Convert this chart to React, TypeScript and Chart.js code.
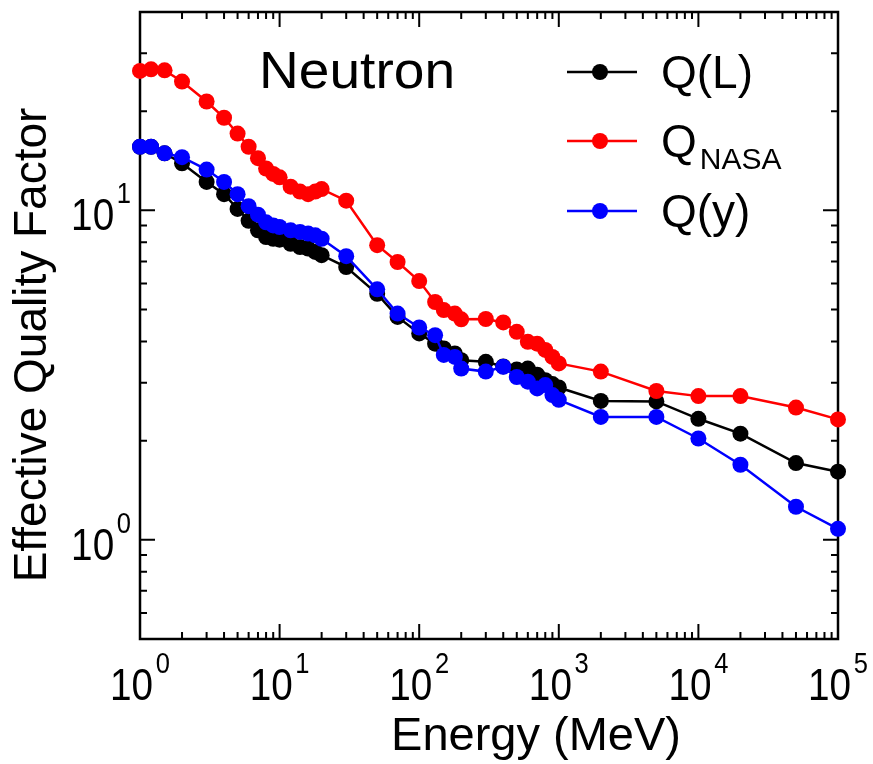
import React, { useEffect, useRef } from "react";
import { Chart, registerables } from "chart.js";

Chart.register(...registerables);

// ---- data ----
const energies = [1, 1.2, 1.5, 2, 3, 4, 5, 6, 7, 8, 9, 10, 12, 14, 16, 18, 20, 30, 50, 70, 100, 130, 150, 180, 200, 300, 400, 500, 600, 700, 800, 900, 1000, 2000, 5000, 10000, 20000, 50000, 100000];
const qL = [15.6, 15.6, 14.9, 13.9, 12.2, 11.2, 10.1, 9.3, 8.7, 8.3, 8.2, 8.15, 7.92, 7.74, 7.66, 7.48, 7.31, 6.73, 5.58, 4.75, 4.23, 3.94, 3.81, 3.68, 3.51, 3.47, 3.36, 3.29, 3.31, 3.17, 3.05, 2.97, 2.9, 2.64, 2.63, 2.33, 2.1, 1.71, 1.61];
const qNASA = [26.5, 26.8, 26.6, 24.6, 21.4, 19.1, 17.1, 15.6, 14.4, 13.4, 12.9, 12.6, 11.8, 11.4, 11.2, 11.4, 11.6, 10.7, 7.84, 6.97, 6.1, 5.27, 4.98, 4.86, 4.67, 4.68, 4.57, 4.28, 3.99, 3.94, 3.77, 3.59, 3.43, 3.24, 2.83, 2.73, 2.73, 2.52, 2.32];
const qY = [15.6, 15.6, 14.9, 14.5, 13.3, 12.2, 11.2, 10.3, 9.7, 9.2, 9.0, 8.9, 8.7, 8.6, 8.5, 8.4, 8.2, 7.26, 5.76, 4.86, 4.41, 4.18, 3.64, 3.59, 3.31, 3.24, 3.35, 3.12, 3.02, 2.88, 2.95, 2.75, 2.66, 2.36, 2.36, 2.03, 1.69, 1.26, 1.08];

const xMajorTicks = [1, 10, 100, 1000, 10000, 100000];
const xTickExponents = ["0", "1", "2", "3", "4", "5"];
const yMajorTicks = [1, 10];
const yTickExponents = ["0", "1"];
const yMinorTicks = [0.6, 0.7, 0.8, 0.9, 2, 3, 4, 5, 6, 7, 8, 9, 20, 30];
const minorMultipliers = [2, 3, 4, 5, 6, 7, 8, 9];

const seriesNames = ["Q(L)", "Q", "Q(y)"];
const seriesColors = ["#000000", "#ff0000", "#0000ff"];
const panelLabel = "Neutron";
const xTitle = "Energy (MeV)";
const yTitle = "Effective Quality Factor";

const FONT = '"Liberation Sans", Arial, Helvetica, sans-serif';

const toPoints = (ys: number[]) => energies.map((e, i) => ({ x: e, y: ys[i] }));

// draws "10^exp" with its left edge at x0 (in unscaled pixels), horizontally squeezed by sx
function drawPow(ctx: CanvasRenderingContext2D, exp: string, x0: number, base: number, sx: number) {
  ctx.save();
  ctx.translate(x0, base);
  ctx.scale(sx, 1);
  ctx.font = `44px ${FONT}`;
  const w1 = ctx.measureText("10").width;
  ctx.fillText("10", 0, 0);
  ctx.font = `29px ${FONT}`;
  ctx.fillText(exp, w1 + 3, -27);
  ctx.restore();
}
function powWidth(ctx: CanvasRenderingContext2D, exp: string, sx: number) {
  ctx.font = `44px ${FONT}`;
  const w1 = ctx.measureText("10").width;
  ctx.font = `29px ${FONT}`;
  const w2 = ctx.measureText(exp).width;
  return (w1 + 3 + w2) * sx;
}

const framePlugin = {
  id: "frame",
  beforeDatasetsDraw(chart: any) {
    const { ctx, chartArea, scales } = chart;
    const { left, right, top, bottom } = chartArea;
    const xs = scales.x;
    const ys = scales.y;
    const MAJ = 15;
    const MIN = 7;
    ctx.save();
    ctx.strokeStyle = "#000";
    ctx.lineWidth = 2;
    ctx.beginPath();
    xMajorTicks.forEach((v, i) => {
      const px = xs.getPixelForValue(v);
      ctx.moveTo(px, bottom);
      ctx.lineTo(px, bottom - MAJ);
      ctx.moveTo(px, top);
      ctx.lineTo(px, top + MAJ);
      if (i < xMajorTicks.length - 1) {
        minorMultipliers.forEach((m) => {
          const p = xs.getPixelForValue(v * m);
          ctx.moveTo(p, bottom);
          ctx.lineTo(p, bottom - MIN);
          ctx.moveTo(p, top);
          ctx.lineTo(p, top + MIN);
        });
      }
    });
    yMajorTicks.forEach((v) => {
      const py = ys.getPixelForValue(v);
      ctx.moveTo(left, py);
      ctx.lineTo(left + MAJ, py);
      ctx.moveTo(right, py);
      ctx.lineTo(right - MAJ, py);
    });
    yMinorTicks.forEach((v) => {
      const py = ys.getPixelForValue(v);
      ctx.moveTo(left, py);
      ctx.lineTo(left + MIN, py);
      ctx.moveTo(right, py);
      ctx.lineTo(right - MIN, py);
    });
    ctx.stroke();
    ctx.lineWidth = 2.5;
    ctx.strokeRect(left, top, right - left, bottom - top);
    ctx.restore();
  },
  afterDraw(chart: any) {
    const { ctx, chartArea, scales } = chart;
    const { left, bottom } = chartArea;
    const xs = scales.x;
    const ys = scales.y;
    const SX = 0.88;
    ctx.save();
    ctx.fillStyle = "#000";
    ctx.textBaseline = "alphabetic";
    ctx.textAlign = "left";

    // x tick labels
    xMajorTicks.forEach((v, i) => {
      const px = xs.getPixelForValue(v);
      const total = powWidth(ctx, xTickExponents[i], SX);
      drawPow(ctx, xTickExponents[i], px - total / 2, bottom + 61, SX);
    });

    // y tick labels
    yMajorTicks.forEach((v, i) => {
      const py = ys.getPixelForValue(v);
      const total = powWidth(ctx, yTickExponents[i], SX);
      drawPow(ctx, yTickExponents[i], left - 9 - total, py + 20, SX);
    });

    // axis titles
    ctx.font = `47px ${FONT}`;
    ctx.textAlign = "center";
    ctx.fillText(xTitle, 536, 750);
    ctx.save();
    ctx.translate(46, 345);
    ctx.rotate(-Math.PI / 2);
    ctx.font = `46px ${FONT}`;
    ctx.fillText(yTitle, 0, 0);
    ctx.restore();

    // panel label
    ctx.textAlign = "left";
    ctx.save();
    ctx.translate(259, 88);
    ctx.scale(1.06, 1);
    ctx.font = `52px ${FONT}`;
    ctx.fillText(panelLabel, 0, 0);
    ctx.restore();

    // legend
    const rows = [72, 141, 211];
    rows.forEach((ry, i) => {
      ctx.strokeStyle = seriesColors[i];
      ctx.lineWidth = 2.5;
      ctx.beginPath();
      ctx.moveTo(567, ry);
      ctx.lineTo(637, ry);
      ctx.stroke();
      ctx.fillStyle = seriesColors[i];
      ctx.beginPath();
      ctx.arc(600, ry, 8, 0, Math.PI * 2);
      ctx.fill();
      ctx.fillStyle = "#000";
      ctx.font = `46px ${FONT}`;
      ctx.fillText(seriesNames[i], 661, ry + 16);
      if (i === 1) {
        const wq = ctx.measureText(seriesNames[i]).width;
        ctx.font = `30px ${FONT}`;
        ctx.fillText("NASA", 661 + wq + 3, ry + 28);
      }
    });
    ctx.restore();
  },
};

export default function App() {
  const canvasRef = useRef<HTMLCanvasElement | null>(null);

  useEffect(() => {
    const canvas = canvasRef.current;
    if (!canvas) return;
    const mk = (label: string, ys: number[], color: string, order: number) => ({
      label,
      data: toPoints(ys),
      borderColor: color,
      backgroundColor: color,
      borderWidth: 2.5,
      pointRadius: 8,
      pointBorderWidth: 0,
      pointBackgroundColor: color,
      tension: 0,
      clip: false as any,
      order,
    });
    const chart = new Chart(canvas, {
      type: "line",
      data: {
        datasets: [
          mk("Q(L)", qL, seriesColors[0], 2),
          mk("QNASA", qNASA, seriesColors[1], 1),
          mk("Q(y)", qY, seriesColors[2], 0),
        ],
      },
      options: {
        responsive: false,
        animation: false,
        devicePixelRatio: 1,
        layout: { padding: { left: 140, right: 35, top: 12, bottom: 125 } },
        plugins: { legend: { display: false }, tooltip: { enabled: false } },
        scales: {
          x: { type: "logarithmic", min: 1, max: 100000, display: false },
          y: { type: "logarithmic", min: 0.5, max: 40, display: false },
        },
      },
      plugins: [framePlugin],
    });
    return () => chart.destroy();
  }, []);

  return (
    <div style={{ position: "absolute", left: 0, top: 0, width: 873, height: 764, background: "#fff" }}>
      <canvas ref={canvasRef} width={873} height={764} style={{ width: 873, height: 764, display: "block" }} />
    </div>
  );
}
